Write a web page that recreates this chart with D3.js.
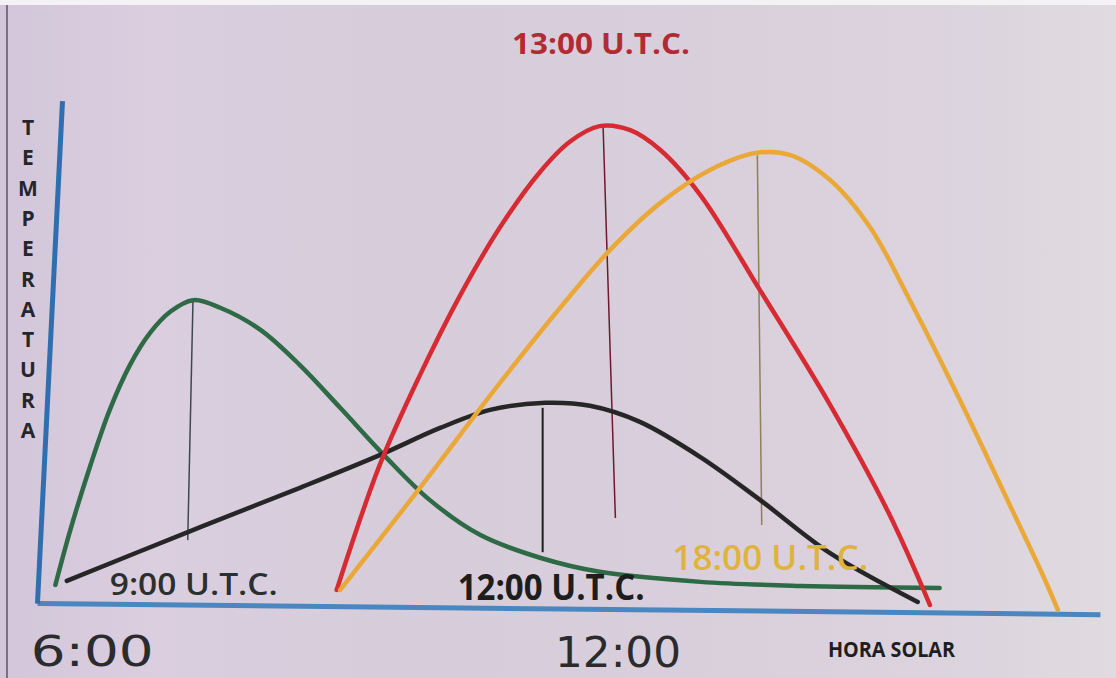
<!DOCTYPE html>
<html>
<head>
<meta charset="utf-8">
<script src="https://cdn.jsdelivr.net/npm/d3@7"></script>
<style>
  html, body { margin: 0; padding: 0; background: #d7cfda; }
  svg { display: block; }
</style>
</head>
<body>
<svg></svg>
<script>
var width = 1116
var height = 678

// series: hour of solar time, relative temperature (0-100)
var green = [[5.58,3.6],[5.75,14.5],[5.98,27.4],[6.20,38.4],[6.43,47.3],[6.66,53.7],[6.89,57.9],[7.15,60.2],[7.46,58.7],[7.92,54.3],[8.37,47.3],[8.83,38.8],[9.34,29.2],[9.85,20.5],[10.43,13.5],[11.11,9.0],[11.79,6.2],[12.94,4.2],[14.08,3.4],[15.67,3.0]]
var black = [[5.71,4.4],[7.12,14.3],[8.37,22.9],[9.28,29.4],[9.97,34.8],[10.54,38.4],[11.17,39.8],[11.68,39.2],[12.25,36.0],[12.94,29.0],[13.62,20.5],[14.42,9.9],[15.42,0.2]]
var red = [[8.79,2.6],[9.28,27.4],[9.74,45.3],[10.20,61.2],[10.65,74.6],[11.11,85.7],[11.45,91.7],[11.79,94.8],[12.14,94.0],[12.48,90.1],[12.94,81.1],[13.62,62.2],[14.42,39.4],[15.10,17.5],[15.56,-0.4]]
var yellow = [[8.83,2.6],[9.74,22.9],[10.65,43.7],[11.34,58.7],[11.91,70.2],[12.48,79.5],[13.05,86.1],[13.59,89.5],[13.96,89.1],[14.42,84.1],[14.88,74.6],[15.33,60.2],[15.90,40.4],[16.47,19.5],[16.82,6.6],[17.02,-1.4]]

// vertical line under each peak: [top hour, top temp, bottom hour, bottom temp]
var peaks = [[7.15,60.2,7.09,12.5],[11.14,38.8,11.14,10.1],[11.83,94.6,11.97,16.9],[13.59,89.0,13.64,15.5]]

var seriesNames = ["9:00 U.T.C.", "12:00 U.T.C.", "13:00 U.T.C.", "18:00 U.T.C."]
var tickHours = [6, 12]
var tickLabels = ["6:00", "12:00"]
var yTitle = "TEMPERATURA"
var xTitle = "HORA SOLAR"

var x = d3.scaleLinear().domain([5.37, 17.5]).range([37, 1100])
var y = d3.scaleLinear().domain([0, 100]).range([603, 100])

const svg = d3.select("svg")
  .attr("width", width)
  .attr("height", height)
  .attr("viewBox", [0, 0, width, height])

// photo-like paper background
var defs = svg.append("defs")
var grad = defs.append("linearGradient").attr("id", "paper")
grad.append("stop").attr("offset", "0%").attr("stop-color", "#d3c6da")
grad.append("stop").attr("offset", "14%").attr("stop-color", "#dacedf")
grad.append("stop").attr("offset", "35%").attr("stop-color", "#d7cdda")
grad.append("stop").attr("offset", "60%").attr("stop-color", "#d9cfdc")
grad.append("stop").attr("offset", "85%").attr("stop-color", "#dbd3dd")
grad.append("stop").attr("offset", "100%").attr("stop-color", "#e0dbe0")

svg.append("rect").attr("width", width).attr("height", height).attr("fill", "url(#paper)")
svg.append("rect").attr("width", width).attr("height", 5).attr("fill", "#f4f2f4")
svg.append("line").attr("x1", 7).attr("x2", 7).attr("y1", 5).attr("y2", height)
  .attr("stroke", "#5a5560").attr("stroke-width", 1.5)

// axes (drawn slightly skewed like the hand-made original)
var gx = svg.append("g")
  .attr("transform", "rotate(0.6, 37, 603) translate(0, 603)")
  .call(d3.axisBottom(x).tickValues([]).tickSizeOuter(0))
gx.select(".domain").attr("stroke", "#4a86bf").attr("stroke-width", 5)

var gy = svg.append("g")
  .attr("transform", "rotate(2.85, 37, 603) translate(37, 0)")
  .call(d3.axisLeft(y).tickValues([]).tickSizeOuter(0))
gy.select(".domain").attr("stroke", "#2f6fb0").attr("stroke-width", 5)

// drop lines
var dropColors = ["#3d4752", "#1e1e1e", "#6e1a2c", "#8f8058"]
svg.append("g").selectAll("line")
  .data(peaks)
  .join("line")
    .attr("x1", d => x(d[0]))
    .attr("y1", d => y(d[1]))
    .attr("x2", d => x(d[2]))
    .attr("y2", d => y(d[3]))
    .attr("stroke", (d, i) => dropColors[i])
    .attr("stroke-width", (d, i) => i == 1 ? 2 : 1.5)

var line = d3.line()
  .x(d => x(d[0]))
  .y(d => y(d[1]))
  .curve(d3.curveCatmullRom.alpha(0.5))

var series = [green, black, red, yellow]
var colors = ["#2d6a45", "#262626", "#d62b33", "#eaa838"]
svg.append("g").attr("fill", "none").attr("stroke-linecap", "round")
  .selectAll("path")
  .data(series)
  .join("path")
    .attr("d", line)
    .attr("stroke", (d, i) => colors[i])
    .attr("stroke-width", 4.5)

// series labels
var font = "'Open Sans', 'Liberation Sans', sans-serif"
var labelInfo = [
  {h: 6.20, t: 1.6, w: 168, size: 31, weight: 600, color: "#283030"},
  {h: 10.17, t: 0.6, w: 187, size: 35, weight: 700, color: "#1d1d1d"},
  {h: 10.79, t: 109.2, w: 178, size: 28, weight: 700, color: "#b22a33"},
  {h: 12.62, t: 6.6, w: 196, size: 35, weight: 600, color: "#dfb33c"}
]
svg.append("g").selectAll("text")
  .data(labelInfo)
  .join("text")
    .attr("x", d => x(d.h))
    .attr("y", d => y(d.t))
    .attr("font-family", font)
    .attr("font-size", d => d.size)
    .attr("font-weight", d => d.weight)
    .attr("fill", d => d.color)
    .attr("textLength", d => d.w)
    .attr("lengthAdjust", "spacingAndGlyphs")
    .text((d, i) => seriesNames[i])

// hour labels
svg.append("g").selectAll("text")
  .data(tickHours)
  .join("text")
    .attr("x", d => x(d))
    .attr("y", (d, i) => i == 0 ? 666 : 667)
    .attr("text-anchor", "middle")
    .attr("font-family", "'DejaVu Sans', sans-serif")
    .attr("font-size", 42)
    .attr("fill", "#2b2b2e")
    .attr("textLength", (d, i) => i == 0 ? 123 : 126)
    .attr("lengthAdjust", "spacingAndGlyphs")
    .text((d, i) => tickLabels[i])

svg.append("text")
  .attr("x", 828)
  .attr("y", 657)
  .attr("font-family", font)
  .attr("font-size", 22)
  .attr("font-weight", 700)
  .attr("fill", "#1e1e22")
  .attr("textLength", 127)
  .attr("lengthAdjust", "spacingAndGlyphs")
  .text(xTitle)

// vertical axis title, one letter per row
svg.append("g").selectAll("text")
  .data(yTitle.split(""))
  .join("text")
    .attr("x", 28)
    .attr("y", (d, i) => 135 + i * 30.3)
    .attr("text-anchor", "middle")
    .attr("font-family", font)
    .attr("font-size", 21)
    .attr("font-weight", 700)
    .attr("fill", "#26262a")
    .text(d => d)
</script>
</body>
</html>
